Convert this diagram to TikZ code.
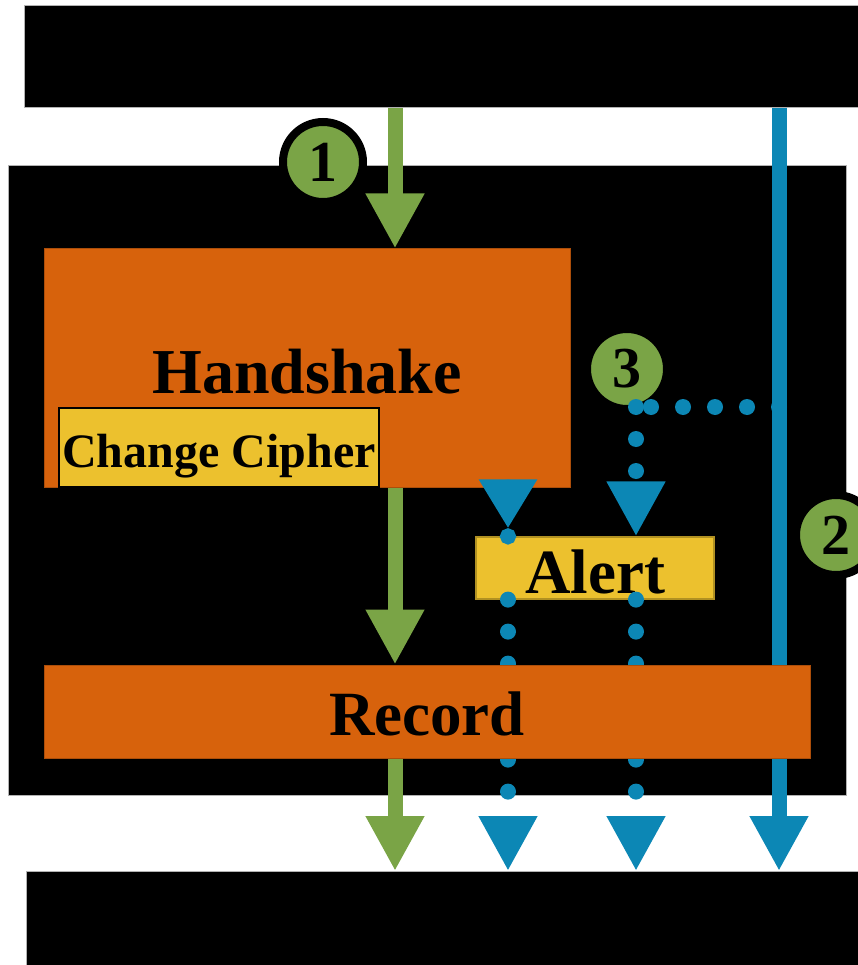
\documentclass[tikz,border=0pt]{standalone}
\usepackage{fontspec}
\setmainfont{Liberation Serif}
\usetikzlibrary{arrows.meta, positioning}

\pgfdeclarelayer{front}
\pgfsetlayers{main,front}

\definecolor{tlsorange}{RGB}{215,98,12}
\definecolor{tlsyellow}{RGB}{236,193,46}
\definecolor{tlsgreen}{RGB}{122,164,70}
\definecolor{tlsblue}{RGB}{12,135,181}

\begin{document}
\begin{tikzpicture}[x=1pt, y=-1pt,
    layerbox/.style={fill=black, draw=gray!60, line width=1pt, inner sep=0pt, anchor=north west},
    proto/.style={fill=tlsorange, draw=tlsorange!80!black, line width=1pt, inner sep=0pt,
      text depth=0pt, font=\bfseries\fontsize{64}{64}\selectfont},
    msgbox/.style={fill=tlsyellow, line width=1.2pt, inner sep=0pt},
    stepmark/.style={circle, fill=tlsgreen, draw=black, line width=8pt, minimum size=80pt,
      inner sep=0pt, font=\bfseries\fontsize{58}{58}\selectfont},
    flow/.style={line width=15pt, -{Triangle[width=55pt,length=55pt]}},
    dotflow/.style={tlsblue, line width=16pt, line cap=round, dash pattern=on 0pt off 32pt,
      -{Triangle[width=55pt,length=55pt]}}]

  \useasboundingbox (0,0) rectangle (857,965);

  % Schichten (schwarz)
  \node[layerbox, minimum width=860pt, minimum height=102pt] (upper) at (24,5) {};
  \node[layerbox, minimum width=838pt, minimum height=630pt] (tls) at (8,165) {};
  \node[layerbox, minimum width=860pt, minimum height=110pt] (lower) at (26,871) {};

  % Protokolle
  \node[proto, minimum width=526pt, minimum height=238pt, text height=50pt] (hs) at (307,368) {Handshake};
  \node[msgbox, draw=black, minimum width=320pt, minimum height=79pt,
    text height=45pt, text depth=6pt,
    font=\bfseries\fontsize{48}{48}\selectfont] (cc) at (219,447.5) {Change Cipher};
  \node[msgbox, draw=tlsyellow!75!black, minimum width=238pt, minimum height=62pt,
    text height=51pt, text depth=0pt,
    font=\bfseries\fontsize{63}{63}\selectfont] (alert) at (595,568) {Alert};
  \begin{pgfonlayer}{front}
    \node[proto, minimum width=766pt, minimum height=93pt, text height=47pt,
      font=\bfseries\fontsize{63}{63}\selectfont] (rec) at (427,711.5) {Record};
  \end{pgfonlayer}

  % Nummern
  \node[stepmark] (s1) at (323,162) {1};
  \node[stepmark] (s2) at (836,535) {2};
  \node[stepmark] (s3) at (627,369) {3};

  % Spalten
  \coordinate (gx) at (395,0);
  \coordinate (hx) at (508,0);
  \coordinate (ax) at (636,0);
  \coordinate (bx) at (779,0);
  \coordinate (split) at (779,407);
  \coordinate (turn) at (636,407);

  % Alert-Pfade (gepunktet)
  \draw[dotflow, -] (split) -- (turn);
  \draw[dotflow] (turn) -- (alert.north -| turn);
  \draw[dotflow, dash pattern=on 0pt off 64pt, shorten >=-8pt,
    -{Triangle[width=55pt,length=49pt,sep=0pt]Circle[length=16pt,sep=0pt]}]
    (hs.south -| hx) -- (alert.north -| hx);
  \draw[dotflow] (alert.south -| hx) -- (lower.north -| hx);
  \draw[dotflow] (alert.south -| ax) -- (lower.north -| ax);

  % Handshake-Pfad
  \draw[flow, tlsgreen] (upper.south -| gx) -- (hs.north -| gx);
  \draw[flow, tlsgreen] (hs.south -| gx) -- (rec.north -| gx);
  \draw[flow, tlsgreen] (rec.south -| gx) -- (lower.north -| gx);

  % Anwendungsdaten
  \draw[flow, tlsblue] (upper.south -| bx) -- (lower.north -| bx);
\end{tikzpicture}
\end{document}
